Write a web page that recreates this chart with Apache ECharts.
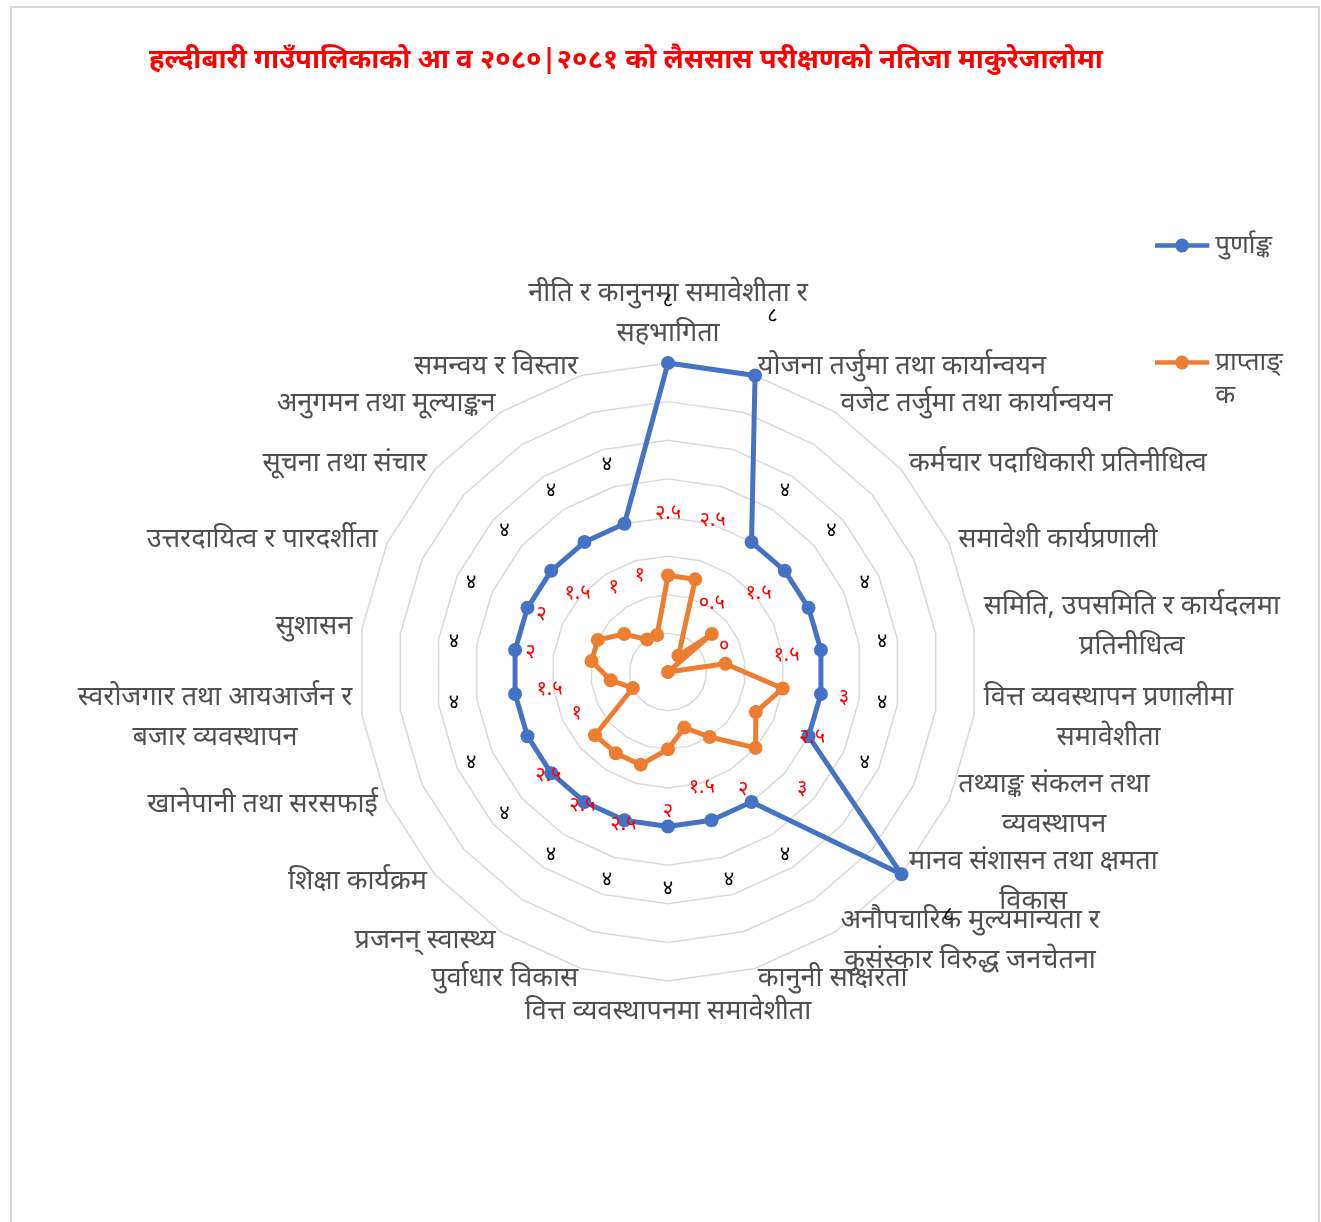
<!DOCTYPE html>
<html>
<head>
<meta charset="utf-8">
<script src="https://cdn.jsdelivr.net/npm/echarts@6/dist/echarts.min.js"></script>
<style>
  body { margin: 0; background: #fff; }
  #frame { position: absolute; left: 10px; top: 6px; width: 1306px; height: 1240px; border: 2px solid #d9d9d9; }
  #container { position: absolute; left: 0; top: 0; width: 1321px; height: 1222px; }
</style>
</head>
<body>
<div id="frame"></div>
<div id="container"></div>
<script>
/* chart data (clockwise from the top, like the excel sheet) */
var categories = [
  'नीति र कानुनमा समावेशीता र\nसहभागिता',
  'योजना तर्जुमा तथा कार्यान्वयन',
  'वजेट तर्जुमा तथा कार्यान्वयन',
  'कर्मचार पदाधिकारी प्रतिनीधित्व',
  'समावेशी कार्यप्रणाली',
  'समिति, उपसमिति र कार्यदलमा\nप्रतिनीधित्व',
  'वित्त व्यवस्थापन प्रणालीमा\nसमावेशीता',
  'तथ्याङ्क संकलन तथा\nव्यवस्थापन',
  'मानव संशासन तथा क्षमता\nविकास',
  'अनौपचारिक मुल्यमान्यता र\nकुसंस्कार विरुद्ध जनचेतना',
  'कानुनी साक्षरता',
  'वित्त व्यवस्थापनमा समावेशीता',
  'पुर्वाधार विकास',
  'प्रजनन् स्वास्थ्य',
  'शिक्षा कार्यक्रम',
  'खानेपानी तथा सरसफाई',
  'स्वरोजगार तथा आयआर्जन र\nबजार व्यवस्थापन',
  'सुशासन',
  'उत्तरदायित्व र पारदर्शीता',
  'सूचना तथा संचार',
  'अनुगमन तथा मूल्याङ्कन',
  'समन्वय र विस्तार'
];
var fullMarks = [8, 8, 4, 4, 4, 4, 4, 4, 8, 4, 4, 4, 4, 4, 4, 4, 4, 4, 4, 4, 4, 4];
var gotMarks = [2.5, 2.5, 0.5, 1.5, 0, 1.5, 3, 2.5, 3, 2, 1.5, 2, 2.5, 2.5, 2.5, 1, 1.5, 2, 2, 1.5, 1, 1];
var seriesNames = ['पुर्णाङ्क', 'प्राप्ताङ्क'];
var maxMark = 8;

var titleText = 'हल्दीबारी गाउँपालिकाको आ व २०८०|२०८१ को लैससास परीक्षणको नतिजा माकुरेजालोमा';

// echarts radar runs counter-clockwise, so flip the order after the first spoke
function cw(arr) {
  return [arr[0]].concat(arr.slice(1).reverse());
}

/* labels in excel sit a bit outside the points */
var labelShift = 1.6;
var devDigits = '०१२३४५६७८९';
function toDev(n) {
  return String(n).replace(/[0-9]/g, function (d) { return devDigits[+d]; });
}
function shiftedLabel(params) {
  var v = params.value;
  if (Array.isArray(v)) return '';
  return toDev(Math.round((v - labelShift) * 10) / 10);
}

var fontStack = '"Noto Sans", "Noto Sans Devanagari", sans-serif';
var nameColor = '#4f4f4f';

var dom = document.getElementById('container');
var myChart = echarts.init(dom, null, { renderer: 'canvas' });

var legendIcon = 'path://M0,4.75 L21.3,4.75 A7,7 0 0 1 34.7,4.75 L56,4.75 L56,9.25 L34.7,9.25 A7,7 0 0 1 21.3,9.25 L0,9.25 Z';

var option = {
  backgroundColor: 'transparent',
  title: {
    text: titleText,
    left: 149,
    top: 46,
    padding: 0,
    textStyle: { color: '#ff0000', fontSize: 27.5, fontWeight: 'bold', fontFamily: fontStack }
  },
  legend: {
    orient: 'vertical',
    left: 1155,
    top: 229,
    padding: 0,
    itemWidth: 56,
    itemHeight: 14,
    itemGap: 51,
    icon: legendIcon,
    data: [seriesNames[0], seriesNames[1]],
    formatter: function (name) {
      // excel wraps the second name under itself, first line level with the marker
      return name === seriesNames[1] ? '\nप्राप्ताङ्\nक' : name;
    },
    textStyle: { color: nameColor, fontSize: 26, lineHeight: 33, fontFamily: fontStack }
  },
  radar: {
    center: [668, 672],
    radius: 309,
    shape: 'polygon',
    splitNumber: 8,
    startAngle: 90,
    indicator: cw(categories).map(function (c) { return { name: c, min: 0, max: maxMark }; }),
    nameGap: 10,
    axisName: {
      formatter: function (name) {
        return name.split('\n').map(function (l) { return '{c|' + l + '}'; }).join('\n');
      },
      rich: {
        c: { color: nameColor, fontSize: 27, lineHeight: 40, fontFamily: fontStack, align: 'center' }
      }
    },
    axisLine: { show: false },
    axisTick: { show: false },
    axisLabel: { show: false },
    splitArea: { show: false },
    splitLine: { lineStyle: { color: '#d9d9d9', width: 1.5 } }
  },
  series: [
    {
      name: seriesNames[0],
      type: 'radar',
      symbol: 'circle',
      symbolSize: 14,
      z: 3,
      data: [{ name: seriesNames[0], value: cw(fullMarks) }],
      lineStyle: { color: '#4472c4', width: 5 },
      itemStyle: { color: '#4472c4' }
    },
    {
      name: seriesNames[1],
      type: 'radar',
      symbol: 'circle',
      symbolSize: 14,
      z: 4,
      data: [{ name: seriesNames[1], value: cw(gotMarks) }],
      lineStyle: { color: '#ed7d31', width: 5 },
      itemStyle: { color: '#ed7d31' }
    },
    {
      name: 'labels',
      type: 'radar',
      silent: true,
      symbol: 'circle',
      symbolSize: 1,
      z: 5,
      lineStyle: { width: 0, opacity: 0 },
      itemStyle: { color: 'rgba(0,0,0,0)' },
      label: {
        show: true,
        position: 'inside',
        fontSize: 20,
        fontFamily: fontStack,
        formatter: shiftedLabel
      },
      data: [
        { name: 'full-labels', value: cw(fullMarks).map(function (v) { return v + labelShift; }), label: { color: '#000000' } },
        { name: 'got-labels', value: cw(gotMarks).map(function (v) { return v + labelShift; }), label: { color: '#ff0000' } }
      ]
    }
  ]
};

myChart.setOption(option);
</script>
</body>
</html>
